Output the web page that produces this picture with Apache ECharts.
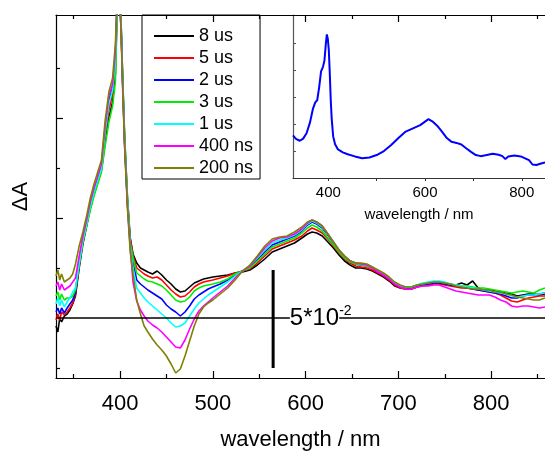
<!DOCTYPE html>
<html><head><meta charset="utf-8">
<script src="https://cdn.jsdelivr.net/npm/echarts@6/dist/echarts.min.js"></script>
<style>html,body{margin:0;padding:0;background:#fff}#c{width:545px;height:451px}</style>
</head><body><div id="c"></div>
<script>
// ---------- data (ΔA in units of 10^-3) ----------
const wavelengths = [331,333,335,337,340,343,346,349,352,356,360,364,368,372,376,380,384,388,392,395,398,401,403,405,408,411,414,418,422,426,430,435,440,445,450,455,460,465,470,475,480,485,490,495,500,508,516,524,532,540,548,556,564,572,580,588,596,602,607,612,618,624,630,636,642,648,654,660,666,672,678,684,690,696,702,708,714,720,726,732,738,744,750,756,762,768,774,780,786,792,798,804,810,816,822,828,834,840,846,852,858];

const dA_8us = [-4,-7,0,-2,1,2,4,7,11,
 25,37,46,55,62,68,74,88,100,108,122,
 172,150,118,90,60,40,32,27.5,
 25,24,23,22,23.5,21.5,19,17,14.5,13,13.5,15.5,17.5,18.5,19.5,20,20.5,
 21,21.5,22.5,23,24,26.5,29.5,33,34.5,36,37.5,40,
 42,43,42.5,
 41,38,35,31.5,28.5,26.5,25,25,24.5,23.5,22,20.5,18.5,16,15,14.5,14.5,15.5,16.5,17,17.5,17.5,17,16.5,16.5,17.5,16.5,18.5,15,14,14,13.5,13,12.5,12,11,11.5,12,12,11.5,12];

const dA_5us = [-1,2,-1,3,1.5,3,5,7.5,12,
 26,39,47,56,63,69,75,92,104,112,127,
 173,148,116,88,58,39,31,25,
 23.5,22,21,20,20.5,19,16.5,14,12,10.5,11,13,15.5,17,18,18.5,19,
 20,21,22.5,23.5,24.5,27.5,31,34.5,36,37.5,39,41,
 43.5,45,44,
 42.5,39.5,36,32.5,29.5,27.5,26,25.5,25,24,22.5,21,19,16.5,15,14.5,14.5,15.5,16,16.5,17,17,16.5,16,15.5,15,15,14.5,14,13.5,13,12.5,11.5,10,8.5,8,9,10,10.5,11,11];

const dA_2us = [3,5,2,5,2.5,5,7,9,13,
 28,40,48,57,64,70,76,95,109,115,130,
 174,147,115,87,57,37,28,19,
 17,15.5,14,12.5,11,9.5,6.5,4.5,3,1,3,6,9.5,11.5,13,14.5,15.5,
 17,19,21.5,23.5,25.5,29,33,36.5,38,39.5,41,43.5,
 46.5,48,47,
 45,41.5,37.5,33.5,30.5,28.5,27,26.5,26,25,23,21.5,19.5,17,15.5,15,15,16,16.5,17,17.5,17.5,17,16.5,16,15.5,15,14.5,14,13.5,13,12.5,12,11,10,10,11,11.5,11.5,12,12.5];

const dA_3us = [11,13,9,12,9,10,10,11,14,
 27,38,46,54,61,67,73,86,98,106,118,
 170,150,119,91,61,38,30,22.5,
 21,19.5,18.5,18,17,16,14,11.5,9,8,8.5,10.5,13.5,15,16,16.5,17,
 18,19.5,22,23.5,25,28.5,32,35.5,37,38.5,40,42.5,
 45,46.5,45.5,
 43.5,40,36.5,33,30,28,27,26.5,26,25,23.5,22,20,17.5,16,15.5,15.5,16.5,17,17.5,18,18,17.5,17,16.5,16,16,15.5,15,15,14.5,14,13.5,13,12.5,13,13.5,13,12.5,14,15];

const dA_1us = [7,10,6,9,5.5,8,10,13,15,
 27,39,47,56,63,69,75,93,107,114,128,
 172,148,116,88,58,36,25,15,
 12.5,10,8,6,4,2,0,-2.5,-4.5,-4,-2.5,1,4.5,7.5,9.5,11.5,13,
 15.5,18,21,23.5,26,30,34,37.5,39,40,41.5,44,
 47,48.5,47.5,
 45.5,42,38,34,31,28.5,27.5,27,26.5,25.5,23.5,22,20,17.5,16,15.5,15.5,16.5,17.5,18,18.5,18.5,18,17,16.5,16,15.5,15,14.5,14,13.5,13,12.5,12,11,10.5,11,11.5,11.5,12,12.5];

const dA_400ns = [16,18,14,17,14,15,16,18,20,
 31,41,49,58,65,71,77,96,111,117,133,
 174,146,114,86,56,35,18,8.5,
 4,1,-1.5,-3.5,-5,-7,-9.5,-12,-14.5,-15,-11,-5.5,-0.5,3.5,6,8,10,
 13,16,20,23.5,26,30.5,35,38.5,40,40.5,42,44.5,
 47.5,49,48,
 46,42,38,34,31,28.5,27.5,27,26.5,25,23,21.5,19.5,17,15.5,14.5,14.5,15.5,16,16,16.5,16.5,15.5,14.5,13.5,13,12.5,12,11.5,11.5,11.5,10.5,9,8,6,5.5,6,6,5.5,5,5.5];

const dA_200ns = [21,24,19,22,18,19,20,22,27,
 36,43,51,60,67,73,79,99,113,120,137,
 175,145,112,85,55,33,22,9,
 2,-4,-7,-10.5,-13.5,-16,-19,-23,-27.5,-25.5,-19,-11.5,-4,2,5.5,7.5,9,
 12,15,19,23.5,26.5,31,36,39.5,40.5,41,43,45.5,
 48,49,48,
 46,42,38,34,31,28.5,27.5,27.5,27,25.5,24,22.5,20.5,18,16.5,15.5,15.5,16.5,17,17.5,18,18,17.5,17,16,15.5,15,14.5,14.5,14,14,13,13,12,11.5,10.5,10,9.5,9,9,10];

const seriesNames = ['8 us','5 us','2 us','3 us','1 us','400 ns','200 ns'];
const seriesValues = [dA_8us, dA_5us, dA_2us, dA_3us, dA_1us, dA_400ns, dA_200ns];
const seriesColors = ['#000000','#ff0000','#0000ff','#00ee00','#00ffff','#ff00ff','#808000'];

// inset: steady-state absorption (arbitrary units)
const insetWavelengths = [327,333,341,348,355,362,368,373,377,381,385,389,392,395,397,399,401,403,405,407,410,414,420,430,440,455,470,485,500,515,530,545,560,575,590,600,607,615,625,635,645,655,665,675,685,695,705,715,725,740,752,760,766,772,785,798,808,815,822,830,840,848];
const insetAbs = [1.58,1.45,1.38,1.46,1.66,2.05,2.55,2.80,2.88,3.35,3.95,4.12,4.35,5.0,5.32,5.15,4.75,3.9,2.9,2.2,1.55,1.25,1.06,0.95,0.88,0.80,0.73,0.76,0.85,1.0,1.22,1.48,1.72,1.84,1.96,2.09,2.18,2.10,1.94,1.72,1.48,1.34,1.30,1.24,1.10,0.97,0.85,0.81,0.84,0.90,0.86,0.81,0.70,0.80,0.83,0.80,0.72,0.66,0.50,0.48,0.54,0.58];

// axes ticks
const mainXTicks = [400,500,600,700,800];
const mainXMinor = [350,450,550,650,750,850];
const mainYTicks = [50,100];
const mainYMinor = [-25,25,75,125];
const insetXLabels = [400,600,800];
const insetXTicks = [400,500,600,700,800];
const insetYTicks = [1,2,3,4,5];

// scale bar (5*10^-2 = 50 units)
const scaleBarX = [565,565];
const scaleBarY = [-25,24];
const scaleLabelAt = [[583,0]];

// ---------- chart ----------
const FONT = '"Liberation Sans", Arial, Helvetica, sans-serif';
const chart = echarts.init(document.getElementById('c'), null, {renderer:'canvas'});

function xAxisMain(pos, ticks, len, showLine, showLabel){
  return {
    type:'value', gridIndex:0, min:331, max:858, position:pos,
    axisLine:{show:showLine, onZero:false, lineStyle:{color:'#000', width:1.2}},
    axisTick:{show:true, inside:true, length:len, customValues:ticks, lineStyle:{color:'#000', width:1.2}},
    axisLabel:{show:showLabel, customValues:ticks, fontSize:22, color:'#000', margin:15, fontFamily:FONT},
    splitLine:{show:false}
  };
}

const xAxes = [
  Object.assign(xAxisMain('bottom', mainXTicks, 7, true, true), {
    name:'wavelength / nm', nameLocation:'middle', nameGap:51,
    nameTextStyle:{fontSize:22, color:'#000', fontFamily:FONT}
  }),
  xAxisMain('bottom', mainXMinor, 4, false, false),
  xAxisMain('top', mainXTicks, 7, true, false),
  xAxisMain('top', mainXMinor, 4, false, false),
  {
    type:'value', gridIndex:1, min:327, max:848, position:'bottom',
    axisLine:{show:true, onZero:false, lineStyle:{color:'#333', width:1.2}},
    axisTick:{show:true, inside:false, length:3, customValues:insetXTicks, lineStyle:{color:'#333'}},
    axisLabel:{customValues:insetXLabels, fontSize:15, color:'#000', margin:7, fontFamily:FONT},
    splitLine:{show:false},
    name:'wavelength / nm', nameLocation:'middle', nameGap:29,
    nameTextStyle:{fontSize:15, color:'#000', fontFamily:FONT}
  }
];

const yAxes = [
  {
    type:'value', gridIndex:0, min:-30, max:151.5, position:'left',
    axisLine:{show:true, onZero:false, lineStyle:{color:'#000', width:1.2}},
    axisTick:{show:true, inside:true, length:7, customValues:mainYTicks, lineStyle:{color:'#000', width:1.2}},
    axisLabel:{show:false}, splitLine:{show:false},
    name:'ΔA', nameLocation:'middle', nameGap:24,
    nameTextStyle:{fontSize:22, color:'#000', fontFamily:FONT}
  },
  {
    type:'value', gridIndex:0, min:-30, max:151.5, position:'left',
    axisLine:{show:false, onZero:false},
    axisTick:{show:true, inside:true, length:4, customValues:mainYMinor, lineStyle:{color:'#000', width:1.2}},
    axisLabel:{show:false}, splitLine:{show:false}
  },
  {
    type:'value', gridIndex:1, min:0, max:6.04, position:'left',
    axisLine:{show:true, onZero:false, lineStyle:{color:'#555', width:1.2}},
    axisTick:{show:true, inside:true, length:3, customValues:insetYTicks, lineStyle:{color:'#555'}},
    axisLabel:{show:false}, splitLine:{show:false}
  }
];

const series = seriesNames.map((name, k) => ({
  name, type:'line', xAxisIndex:0, yAxisIndex:0,
  symbol:'none', showSymbol:false, clip:true,
  lineStyle:{color:seriesColors[k], width:1.6},
  itemStyle:{color:seriesColors[k]},
  data: wavelengths.map((w, i) => [w, seriesValues[k][i]])
}));

series.unshift({
  name:'scalebar', type:'line', xAxisIndex:0, yAxisIndex:0, symbol:'none',
  lineStyle:{color:'#000', width:3}, itemStyle:{color:'#000'},
  data: scaleBarX.map((x, i) => [x, scaleBarY[i]]),
  markLine:{
    silent:true, symbol:['none','none'], label:{show:false},
    lineStyle:{color:'#000', width:1.5, type:'solid'},
    data:[{yAxis:0}]
  }
});

series.push({
  name:'scalelabel', type:'scatter', xAxisIndex:0, yAxisIndex:0,
  symbolSize:0, data:scaleLabelAt, z:5, silent:true,
  itemStyle:{opacity:1, color:'#000'},
  emphasis:{disabled:true},
  label:{
    show:true, position:'right', distance:0, opacity:1,
    formatter:'{a|5*10}{b|-2}',
    rich:{
      a:{fontSize:24, lineHeight:28, color:'#000', fontFamily:FONT, backgroundColor:'#fff', opacity:1},
      b:{fontSize:14, lineHeight:14, color:'#000', fontFamily:FONT, verticalAlign:'top', opacity:1}
    }
  }
});

series.push({
  name:'inset', type:'line', xAxisIndex:4, yAxisIndex:2, symbol:'none',
  lineStyle:{color:'#0000ff', width:2}, itemStyle:{color:'#0000ff'},
  data: insetWavelengths.map((w, i) => [w, insetAbs[i]])
});

chart.setOption({
  animation:false,
  backgroundColor:'#fff',
  textStyle:{fontFamily:FONT},
  grid:[
    {left:56, top:15, right:0, bottom:73, containLabel:false, outerBoundsMode:'none'},
    {left:293, top:15, right:0, bottom:273, containLabel:false, outerBoundsMode:'none'}
  ],
  legend:{
    data:seriesNames, orient:'vertical', left:142, top:15,
    padding:[11,7,1,12], itemWidth:40, itemHeight:2, itemGap:2, icon:'rect',
    borderColor:'#000', borderWidth:1,
    textStyle:{fontSize:18, lineHeight:20, color:'#000', fontFamily:FONT},
    selectedMode:false
  },
  xAxis:xAxes,
  yAxis:yAxes,
  series
});
</script>
</body></html>
